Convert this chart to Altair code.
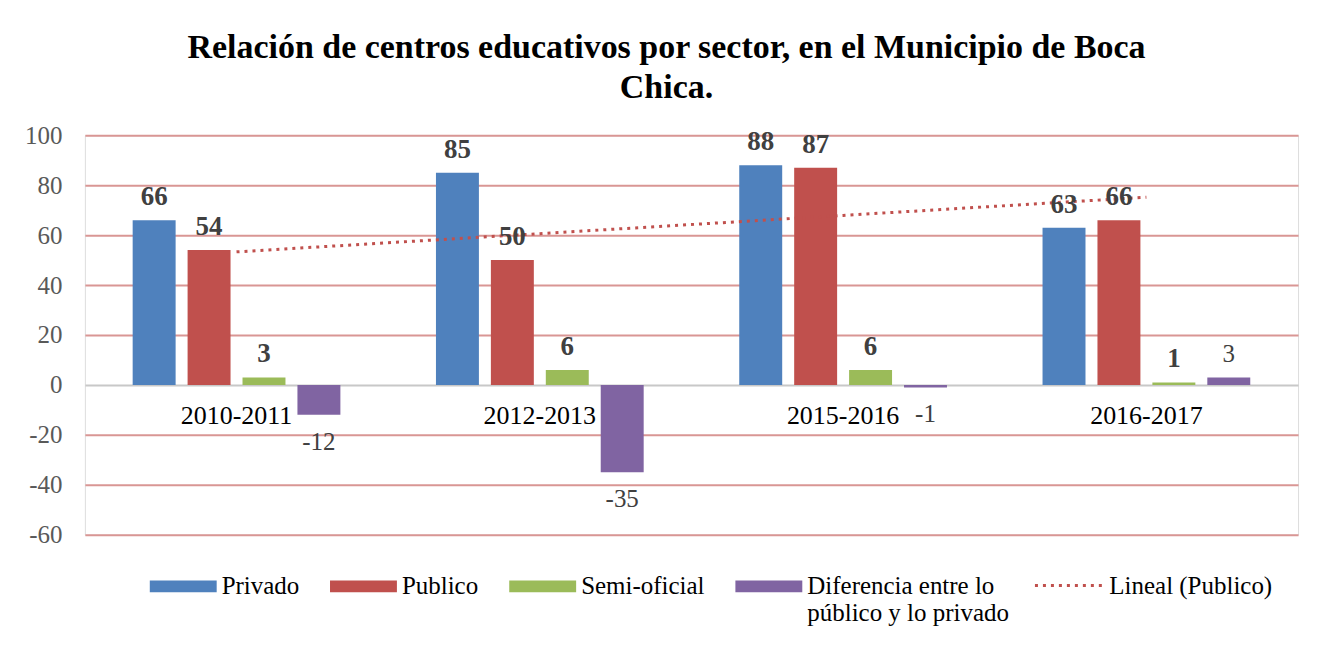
import altair as alt
import numpy as np
import pandas as pd

# ---- data ----
periodos = ["2010-2011", "2012-2013", "2015-2016", "2016-2017"]
privado = [66, 85, 88, 63]
publico = [54, 50, 87, 66]
semi_oficial = [3, 6, 6, 1]
diferencia = [-12, -35, -1, 3]
series = ["Privado", "Publico", "Semi-oficial", "Diferencia entre lo público y lo privado"]
colores = ["#4F81BD", "#C0504D", "#9BBB59", "#8064A2"]
y_ticks = [-60, -40, -20, 0, 20, 40, 60, 80, 100]
titulo = ["Relación de centros educativos por sector, en el Municipio de Boca", "Chica."]
trend_label = "Lineal (Publico)"

FONT = "Liberation Serif"

rows = []
for i, p in enumerate(periodos):
    for s, vals in zip(series, [privado, publico, semi_oficial, diferencia]):
        rows.append({"periodo": p, "serie": s, "valor": vals[i]})
df = pd.DataFrame(rows)

# linear trendline of the Publico series (as Excel's "Lineal (Publico)")
idx = np.arange(1, len(publico) + 1)
slope, intercept = np.polyfit(idx, publico, 1)
trend = pd.DataFrame({"periodo": periodos, "valor": intercept + slope * idx, "leyenda": trend_label})
cats = pd.DataFrame({"periodo": periodos, "valor": [0] * len(periodos)})

x_enc = alt.X("periodo:N", sort=periodos, scale=alt.Scale(paddingInner=0, paddingOuter=0), axis=None)
xoff = alt.XOffset("serie:N", sort=series, scale=alt.Scale(paddingInner=0.218, paddingOuter=0.87))
y_axis = alt.Axis(
    values=y_ticks, title=None, grid=True, ticks=False, domain=False,
    labelPadding=23, labelFont=FONT, labelFontSize=25, labelColor="#595959",
    labelExpr="toString(datum.value)",
    gridColor={"condition": {"test": "datum.value === 0", "value": "#c8c8c8"}, "value": "#D99694"},
    gridWidth=2,
)
y_scale = alt.Scale(domain=[-60, 100], nice=False, zero=True)


def Y(field):
    return alt.Y(f"{field}:Q", scale=y_scale, axis=y_axis)


dif_label = series[3]
label_expr = (
    f"datum.label == '{dif_label}' ? ['Diferencia entre lo', 'público y lo privado'] : [datum.label, '']"
)

bars = alt.Chart(df).mark_bar().encode(
    x=x_enc,
    xOffset=xoff,
    y=Y("valor"),
    color=alt.Color(
        "serie:N", sort=series,
        scale=alt.Scale(domain=series, range=colores),
        legend=alt.Legend(
            orient="none", legendX=65, legendY=425.5, direction="horizontal", title=None,
            symbolType="M-1,-0.4L1,-0.4L1,-0.045L-1,-0.045Z", symbolSize=4489,
            symbolStrokeWidth=0, symbolOpacity=1,
            labelFont=FONT, labelFontSize=25, labelColor="#000000",
            labelBaseline="alphabetic", labelLimit=400, labelOffset=5,
            columnPadding=30.5, labelExpr=label_expr, padding=0,
        ),
    ),
)

base_lbl = alt.Chart(df).transform_calculate(lbl="toString(datum.valor)")

bold_labels = base_lbl.transform_filter(
    alt.datum.serie != dif_label
).mark_text(
    font=FONT, fontSize=27, fontWeight="bold", color="#404040", baseline="alphabetic", dy=-15
).encode(x=x_enc, xOffset=xoff, y=Y("valor"), text="lbl:N")

dif_pos = base_lbl.transform_filter(
    (alt.datum.serie == dif_label) & (alt.datum.valor >= 0)
).mark_text(
    font=FONT, fontSize=25, color="#404040", baseline="alphabetic", dy=-15
).encode(x=x_enc, xOffset=xoff, y=Y("valor"), text="lbl:N")

dif_neg = base_lbl.transform_filter(
    (alt.datum.serie == dif_label) & (alt.datum.valor < 0)
).mark_text(
    font=FONT, fontSize=25, color="#404040", baseline="alphabetic", dy=35
).encode(x=x_enc, xOffset=xoff, y=Y("valor"), text="lbl:N")

cat_labels = alt.Chart(cats).mark_text(
    font=FONT, fontSize=26, color="#000000", baseline="alphabetic", dy=39
).encode(x=x_enc, y=Y("valor"), text="periodo:N")

trend_line = alt.Chart(trend).mark_line(color="#C0504D", strokeWidth=3).encode(
    x=x_enc,
    y=Y("valor"),
    strokeDash=alt.StrokeDash(
        "leyenda:N",
        scale=alt.Scale(domain=[trend_label], range=[[3, 5]]),
        legend=alt.Legend(
            orient="none", legendX=950, legendY=416, title=None,
            symbolSize=4489, symbolStrokeColor="#C0504D", symbolStrokeWidth=3,
            labelFont=FONT, labelFontSize=25, labelColor="#000000",
            labelBaseline="middle", labelOffset=6, padding=0, labelLimit=400,
        ),
    ),
)

chart = alt.layer(
    bars, trend_line, bold_labels, dif_pos, dif_neg, cat_labels
).resolve_scale(
    color="independent", strokeDash="independent"
).properties(
    width=1215,
    height=400,
    autosize=alt.AutoSizeParams(type="none"),
    padding={"left": 77, "top": 127, "right": 30, "bottom": 107},
    title=alt.TitleParams(
        text=titulo, font=FONT, fontSize=34, fontWeight="bold", color="#000000",
        anchor="middle", lineHeight=40, offset=18, dx=-25,
    ),
).configure_view(stroke=None).configure(background="#ffffff")

chart.save("out.html", embed_options={"renderer": "svg", "actions": False})
